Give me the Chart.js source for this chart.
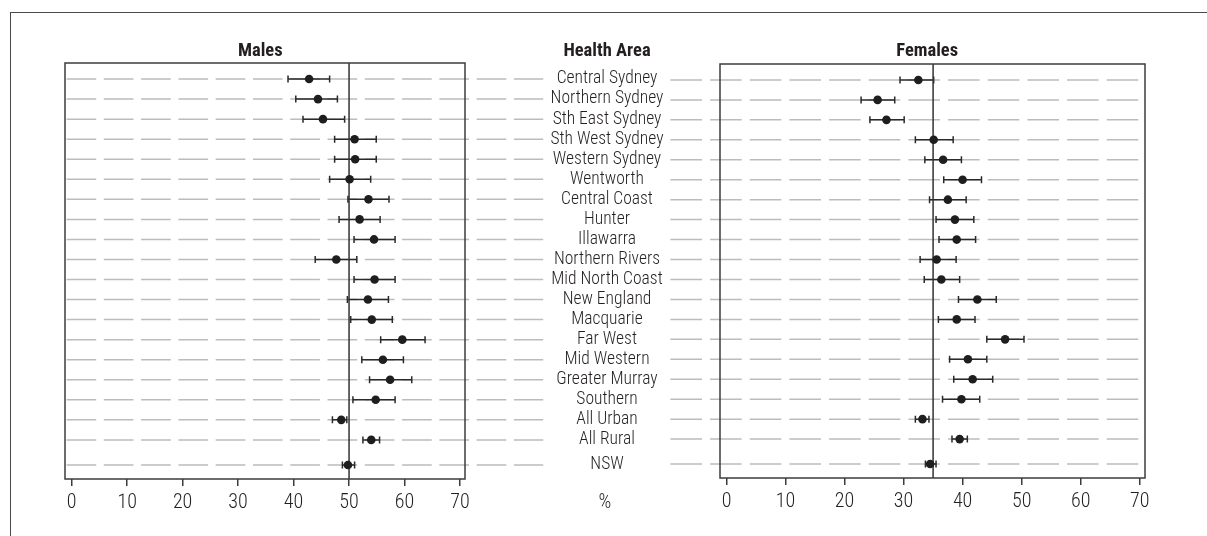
<!DOCTYPE html>
<html>
<head>
<meta charset="utf-8">
<script src="https://cdn.jsdelivr.net/npm/chart.js@4/dist/chart.umd.min.js"></script>
<style>
  html, body { margin: 0; padding: 0; background: #fff; }
  #wrap { position: relative; width: 1207px; height: 536px; overflow: hidden; }
  #frame { position: absolute; left: 10px; top: 12px; width: 1210px; height: 540px;
           border-top: 1px solid #4a4a4a; border-left: 1px solid #4a4a4a; }
  canvas { position: absolute; left: 0; top: 0; }
</style>
</head>
<body>
<div id="wrap">
  <div id="frame"></div>
  <canvas id="males" width="1207" height="536"></canvas>
  <canvas id="females" width="1207" height="536"></canvas>
</div>
<script>
// Health areas, top to bottom
const areas = [
  'Central Sydney', 'Northern Sydney', 'Sth East Sydney', 'Sth West Sydney', 'Western Sydney',
  'Wentworth', 'Central Coast', 'Hunter', 'Illawarra', 'Northern Rivers', 'Mid North Coast',
  'New England', 'Macquarie', 'Far West', 'Mid Western', 'Greater Murray', 'Southern',
  'All Urban', 'All Rural', 'NSW'
];

// Males: estimate (%) with lower / upper confidence limits
const maleRate = [42.8, 44.4, 45.3, 51.0, 51.1, 50.1, 53.5, 51.9, 54.5, 47.7,
                  54.6, 53.4, 54.1, 59.6, 56.1, 57.4, 54.8, 48.6, 54.0, 49.8];
const maleLow  = [39.0, 40.4, 41.7, 47.4, 47.4, 46.5, 49.8, 48.2, 50.9, 43.9,
                  50.9, 49.7, 50.3, 55.7, 52.3, 53.7, 50.7, 47.0, 52.5, 48.8];
const maleHigh = [46.5, 47.9, 49.2, 54.9, 54.9, 53.9, 57.2, 55.6, 58.3, 51.4,
                  58.3, 57.1, 57.8, 63.7, 59.8, 61.3, 58.3, 49.6, 55.5, 51.0];

// Females: estimate (%) with lower / upper confidence limits
const femaleRate = [32.5, 25.6, 27.1, 35.1, 36.7, 40.0, 37.5, 38.7, 39.0, 35.6,
                    36.4, 42.5, 39.0, 47.2, 40.9, 41.7, 39.8, 33.2, 39.5, 34.5];
const femaleLow  = [29.4, 22.8, 24.3, 32.0, 33.6, 36.8, 34.4, 35.5, 36.0, 32.8,
                    33.5, 39.3, 35.9, 44.1, 37.8, 38.5, 36.6, 32.0, 38.2, 33.7];
const femaleHigh = [35.1, 28.5, 30.1, 38.4, 39.8, 43.2, 40.6, 41.9, 42.2, 38.9,
                    39.5, 45.7, 42.1, 50.4, 44.1, 45.1, 42.9, 34.3, 40.8, 35.5];

// Reference lines (state-wide level) for each panel
const maleReference = 50;
const femaleReference = 35;

// Axis tick labels
const tickValues = [0, 10, 20, 30, 40, 50, 60, 70];

// Row positions: the state total sits a little apart from the rest
const rowPos = areas.map((a, i) => (i === areas.length - 1 ? i + 0.25 : i));
const yMin = -0.8, yMax = 19.95;

const FONT = '"Roboto Condensed", "Liberation Sans Narrow", "DejaVu Sans Condensed", "Liberation Sans", sans-serif';
const INK = '#231f20';

const panelPlugin = {
  id: 'panel',
  beforeDatasetsDraw(chart, args, opts) {
    const { ctx, scales: { x, y } } = chart;
    ctx.save();
    // dashed guide line behind every row
    const unit = x.getPixelForValue(1) - x.getPixelForValue(0);
    ctx.setLineDash([unit * 5.35, unit * 1.37]);
    ctx.strokeStyle = '#bcbcbc';
    ctx.lineWidth = 1.5;
    const gx0 = x.getPixelForValue(opts.guideFrom);
    const gx1 = x.getPixelForValue(opts.guideTo);
    rowPos.forEach(p => {
      const py = y.getPixelForValue(p);
      ctx.beginPath();
      ctx.moveTo(gx0, py);
      ctx.lineTo(gx1, py);
      ctx.stroke();
    });
    ctx.setLineDash([]);
    // confidence interval bars with end caps
    ctx.strokeStyle = '#2a2a2a';
    ctx.lineWidth = 1.5;
    opts.low.forEach((lo, i) => {
      const py = y.getPixelForValue(rowPos[i]);
      const xl = x.getPixelForValue(lo);
      const xh = x.getPixelForValue(opts.high[i]);
      ctx.beginPath();
      ctx.moveTo(xl, py); ctx.lineTo(xh, py);
      ctx.moveTo(xl, py - 3.5); ctx.lineTo(xl, py + 3.5);
      ctx.moveTo(xh, py - 3.5); ctx.lineTo(xh, py + 3.5);
      ctx.stroke();
    });
    ctx.restore();
  },
  afterDraw(chart, args, opts) {
    const { ctx, chartArea: a, scales: { x, y } } = chart;
    ctx.save();
    // panel box
    ctx.strokeStyle = '#3c3c3c';
    ctx.lineWidth = 1.5;
    ctx.strokeRect(a.left, a.top, a.right - a.left, a.bottom - a.top);
    // panel heading
    ctx.fillStyle = INK;
    ctx.textAlign = 'center';
    ctx.textBaseline = 'middle';
    ctx.font = 'bold 18.5px ' + FONT;
    ctx.fillText(opts.title, x.getPixelForValue(34), 51);
    if (opts.showAreas) {
      // health area names between the two panels
      const cx = opts.areaCenter;
      ctx.fillText('Health Area', cx, 51);
      ctx.font = '300 17.5px ' + FONT;
      areas.forEach((name, i) => {
        ctx.fillText(name, cx, y.getPixelForValue(rowPos[i]));
      });
      ctx.font = '300 20px ' + FONT;
      ctx.fillText('%', cx - 2, 503);
    }
    ctx.restore();
  }
};

function makePanel(id, cfg) {
  return new Chart(document.getElementById(id), {
    type: 'scatter',
    data: {
      datasets: [
        {
          data: cfg.rate.map((v, i) => ({ x: v, y: rowPos[i] })),
          pointRadius: 4.3,
          pointHoverRadius: 4.3,
          pointBackgroundColor: '#1e1e1e',
          pointBorderColor: '#1e1e1e',
          pointBorderWidth: 0
        },
        {
          type: 'line',
          data: [{ x: cfg.reference, y: yMin }, { x: cfg.reference, y: yMax }],
          borderColor: '#333',
          borderWidth: 1.5,
          pointRadius: 0,
          fill: false
        }
      ]
    },
    options: {
      responsive: false,
      animation: false,
      events: [],
      layout: { padding: cfg.padding },
      plugins: {
        legend: { display: false },
        tooltip: { enabled: false },
        panel: {
          title: cfg.title, low: cfg.low, high: cfg.high,
          guideFrom: cfg.guideFrom, guideTo: cfg.guideTo,
          showAreas: cfg.showAreas, areaCenter: 607
        }
      },
      scales: {
        x: {
          type: 'linear',
          min: cfg.min, max: cfg.max,
          afterBuildTicks: s => { s.ticks = tickValues.map(v => ({ value: v })); },
          afterFit: s => { s.height = cfg.axisHeight; },
          border: { display: false },
          grid: { drawOnChartArea: false, drawTicks: true, tickLength: 7, color: '#3c3c3c', lineWidth: 1.5 },
          ticks: { color: INK, padding: 5, font: { family: FONT, size: 20, weight: '300' }, maxRotation: 0 }
        },
        y: {
          type: 'linear', reverse: true, min: yMin, max: yMax, display: false
        }
      }
    },
    plugins: [panelPlugin]
  });
}

makePanel('males', {
  title: 'Males', rate: maleRate, low: maleLow, high: maleHigh, reference: maleReference,
  min: -1.2, max: 70.9, guideFrom: -0.92, guideTo: 85,
  padding: { left: 65, right: 742, top: 63, bottom: 0 }, axisHeight: 57, showAreas: true
});

makePanel('females', {
  title: 'Females', rate: femaleRate, low: femaleLow, high: femaleHigh, reference: femaleReference,
  min: -1.1, max: 70.9, guideFrom: -9.5, guideTo: 69.9,
  padding: { left: 720, right: 62, top: 64, bottom: 0 }, axisHeight: 58, showAreas: false
});
</script>
</body>
</html>
